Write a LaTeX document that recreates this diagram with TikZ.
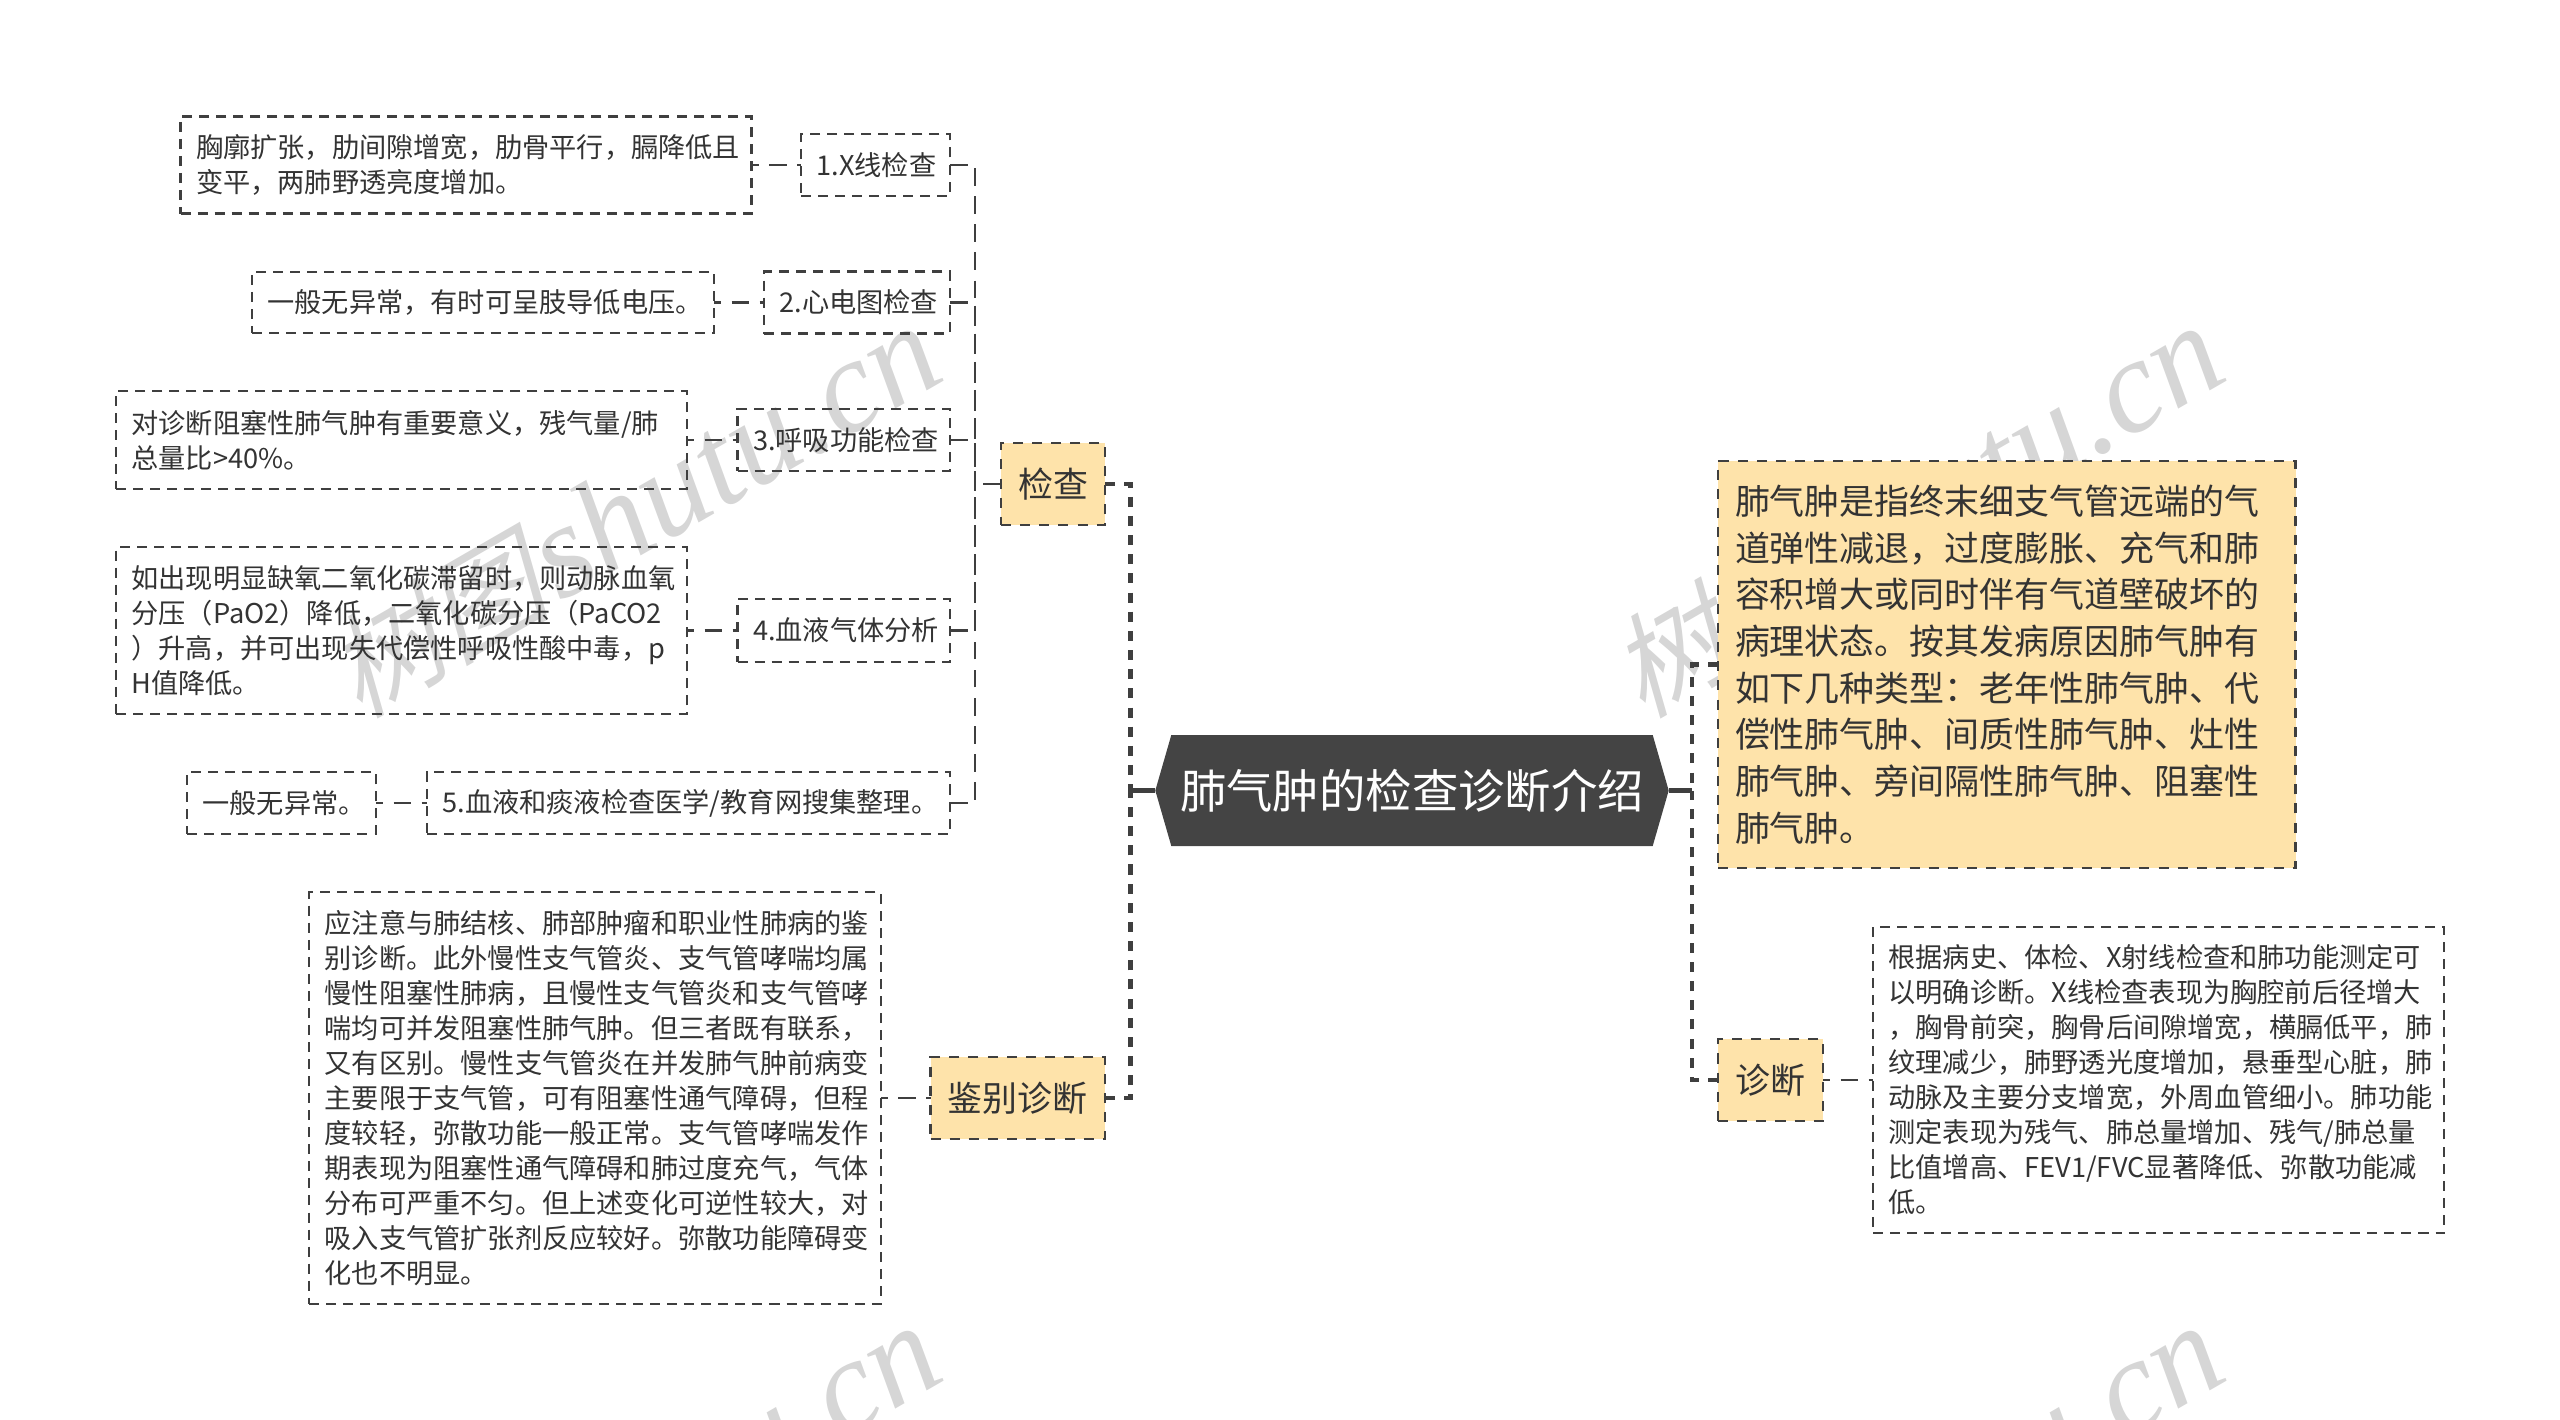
\documentclass[tikz,border=0pt]{standalone}
\usepackage{fontspec}
\setmainfont{Noto Sans CJK SC}
\newfontfamily\wmcjk[FakeSlant=0.25]{Noto Sans CJK SC}
\newfontfamily\wmlat{Liberation Serif}
\usetikzlibrary{positioning,backgrounds}
\definecolor{linecol}{HTML}{3F3F3F}
\definecolor{txtcol}{HTML}{333333}
\definecolor{boxcol}{HTML}{FEE3AA}
\definecolor{rootcol}{HTML}{444444}
\definecolor{wmcol}{HTML}{D6D6D6}
\tikzset{
  leafdash/.style={draw=linecol, line width=0.6pt, dash pattern=on 2.85pt off 2pt},
  linkdash/.style={draw=linecol, line width=0.6pt, dash pattern=on 5pt off 3pt},
  maindash/.style={draw=linecol, line width=1.15pt, dash pattern=on 2.85pt off 2.6pt},
  leaf/.style={leafdash, text=txtcol, inner xsep=0.155cm, inner ysep=0pt, outer sep=0pt, align=left, font=\fontsize{7.74}{9.96}\selectfont, execute at end node={\par\vskip-2.3pt}},
  topic/.style={draw=linecol, line width=0.75pt, dash pattern=on 2.85pt off 2.6pt, fill=boxcol, text=txtcol, inner sep=0pt, outer sep=0pt, align=left, font=\fontsize{9.95}{13.27}\selectfont},
  wmark/.style={text=wmcol, rotate=30, anchor=base east, inner sep=0pt}
}
\begin{document}
\begin{tikzpicture}
  \useasboundingbox (0,0) rectangle (25.6,-14.2);
  % watermark
  \begin{scope}
    \clip (0,0) rectangle (25.6,-14.2);
    \foreach \x/\y/\name in {9.5/-3.78/wma,22.33/-3.78/wmb,9.5/-13.78/wmc,22.33/-13.78/wmd}
      \node[wmark] (\name) at (\x,\y) {{\wmcjk\fontsize{32}{32}\selectfont 树图} {\wmlat\itshape\fontsize{38}{38}\selectfont shutu.cn}};
  \end{scope}
  % center
  \node[text=white, inner sep=0pt, outer sep=0pt, minimum width=5.134cm, minimum height=1.11cm, font=\fontsize{13.2}{16}\selectfont] (root) at (14.12,-7.905) {肺气肿的检查诊断介绍};
  \begin{scope}[on background layer]
    \fill[rootcol] (root.west) -- ([xshift=1.6mm]root.north west) -- ([xshift=-1.6mm]root.north east) -- (root.east) -- ([xshift=-1.6mm]root.south east) -- ([xshift=1.6mm]root.south west) -- cycle;
  \end{scope}
  % left branch
  \node[topic, minimum width=1.04cm, minimum height=0.82cm, align=center] (exam) at (10.53,-4.84) {检查};
  \node[topic, minimum width=1.745cm, minimum height=0.82cm, align=center] (diff) at (10.1775,-10.98) {鉴别诊断};
  \node[leaf, text width=1.18cm, minimum height=0.62cm] (xray) at (8.755,-1.65) {1.X线检查};
  \node[leaf, text width=1.55cm, minimum height=0.62cm] (ecg) at (8.57,-3.025) {2.心电图检查};
  \node[leaf, text width=1.815cm, minimum height=0.62cm] (lung) at (8.4375,-4.40) {3.呼吸功能检查};
  \node[leaf, text width=1.815cm, minimum height=0.63cm] (gas) at (8.4375,-6.305) {4.血液气体分析};
  \node[leaf, text width=4.92cm, minimum height=0.62cm] (blood) at (6.885,-8.03) {5.血液和痰液检查医学/教育网搜集整理。};
  \node[leaf, text width=5.40cm, minimum height=0.97cm] (xraytxt) at (4.66,-1.65) {胸廓扩张，肋间隙增宽，肋骨平行，膈降低且\\变平，两肺野透亮度增加。};
  \node[leaf, text width=4.31cm, minimum height=0.615cm] (ecgtxt) at (4.83,-3.025) {一般无异常，有时可呈肢导低电压。};
  \node[leaf, text width=5.40cm, minimum height=0.975cm] (lungtxt) at (4.015,-4.40) {对诊断阻塞性肺气肿有重要意义，残气量/肺\\总量比>40\%。};
  \node[leaf, text width=5.40cm, minimum height=1.67cm] (gastxt) at (4.015,-6.305) {如出现明显缺氧二氧化碳滞留时，则动脉血氧\\分压（PaO2）降低，二氧化碳分压（PaCO2\\）升高，并可出现失代偿性呼吸性酸中毒，p\\H值降低。};
  \node[leaf, text width=1.58cm, minimum height=0.62cm] (bloodtxt) at (2.815,-8.03) {一般无异常。};
  \node[leaf, text width=5.405cm, minimum height=4.117cm] (difftxt) at (5.95,-10.98) {应注意与肺结核、肺部肿瘤和职业性肺病的鉴\\别诊断。此外慢性支气管炎、支气管哮喘均属\\慢性阻塞性肺病，且慢性支气管炎和支气管哮\\喘均可并发阻塞性肺气肿。但三者既有联系，\\又有区别。慢性支气管炎在并发肺气肿前病变\\主要限于支气管，可有阻塞性通气障碍，但程\\度较轻，弥散功能一般正常。支气管哮喘发作\\期表现为阻塞性通气障碍和肺过度充气，气体\\分布可严重不匀。但上述变化可逆性较大，对\\吸入支气管扩张剂反应较好。弥散功能障碍变\\化也不明显。};
  % right branch
  \node[topic, inner xsep=0.17cm, text width=5.435cm, minimum height=4.07cm, execute at end node={\par\vskip-0.5pt}] (def) at (20.0675,-6.645) {肺气肿是指终末细支气管远端的气\\道弹性减退，过度膨胀、充气和肺\\容积增大或同时伴有气道壁破坏的\\病理状态。按其发病原因肺气肿有\\如下几种类型：老年性肺气肿、代\\偿性肺气肿、间质性肺气肿、灶性\\肺气肿、旁间隔性肺气肿、阻塞性\\肺气肿。};
  \node[topic, minimum width=1.05cm, minimum height=0.82cm, align=center] (diag) at (17.705,-10.80) {诊断};
  \node[leaf, text width=5.40cm, minimum height=3.065cm] (diagtxt) at (21.585,-10.80) {根据病史、体检、X射线检查和肺功能测定可\\以明确诊断。X线检查表现为胸腔前后径增大\\，胸骨前突，胸骨后间隙增宽，横膈低平，肺\\纹理减少，肺野透光度增加，悬垂型心脏，肺\\动脉及主要分支增宽，外周血管细小。肺功能\\测定表现为残气、肺总量增加、残气/肺总量\\比值增高、FEV1/FVC显著降低、弥散功能减\\低。};
  % connectors
  \coordinate (ltrunk) at (11.305,-7.905);
  \coordinate (rtrunk) at (16.92,-7.905);
  \coordinate (etrunk) at (9.75,-4.84);
  \draw[draw=linecol, line width=1.15pt] (root.west) -- (ltrunk);
  \draw[draw=linecol, line width=1.15pt] (root.east) -- (rtrunk);
  \foreach \name in {exam,diff}\draw[maindash] (\name.east) -| (ltrunk);
  \foreach \name in {def,diag}\draw[maindash] (\name.west) -| (rtrunk);
  \draw[linkdash] (exam.west) -- (etrunk);
  \foreach \name in {xray,ecg,lung,gas,blood}\draw[linkdash] (\name.east) -| (etrunk);
  \foreach \a/\b in {xray/xraytxt,ecg/ecgtxt,lung/lungtxt,gas/gastxt,blood/bloodtxt,diff/difftxt}\draw[linkdash, dash phase=3pt] (\b.east) -- (\a.west);
  \draw[linkdash, dash phase=3pt] (diag.east) -- (diagtxt.west);
\end{tikzpicture}
\end{document}
